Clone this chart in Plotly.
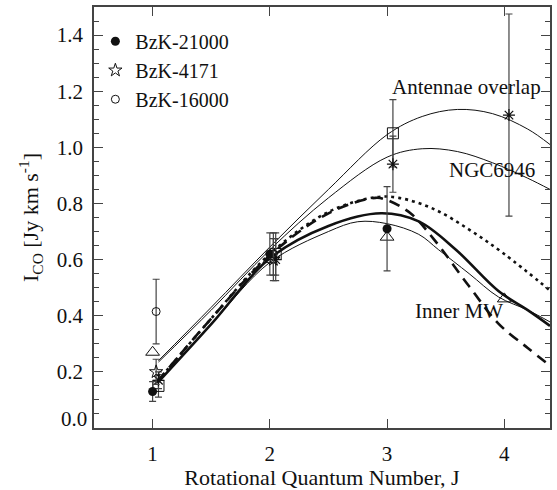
import plotly.graph_objects as go

# ---------------- data ----------------
# observed points (J, I_CO, error)
bzk21000_J = [1.0, 2.0, 3.0]
bzk21000_I = [0.13, 0.62, 0.71]
bzk21000_E = [0.035, 0.075, 0.15]

bzk4171_J = [1.03, 2.03]
bzk4171_I = [0.20, 0.60]
bzk4171_E = [0.045, 0.075]

bzk16000_J = [1.03, 2.03]
bzk16000_I = [0.415, 0.62]
bzk16000_E = [0.115, 0.075]

innermw_pts_J = [1.0, 2.0, 3.0, 4.0]
innermw_pts_I = [0.27, 0.60, 0.68, 0.46]

antennae_pts_J = [1.05, 2.05, 3.05]
antennae_pts_I = [0.15, 0.62, 1.05]
antennae_pts_E = [0.04, 0.075, 0.12]

ngc_pts_J = [1.05, 2.05, 3.05, 4.04]
ngc_pts_I = [0.17, 0.60, 0.94, 1.115]
ngc_pts_E = [0.03, 0.075, 0.10, 0.36]

# model curves
antennae_J = [1.05, 1.5, 2.0, 2.5, 3.0, 3.3, 3.6, 3.9, 4.2, 4.39]
antennae_I = [0.24, 0.43, 0.645, 0.85, 1.045, 1.11, 1.135, 1.12, 1.065, 1.01]

ngc_J = [1.05, 1.5, 2.0, 2.5, 3.0, 3.3, 3.6, 3.9, 4.2, 4.39]
ngc_I = [0.235, 0.42, 0.635, 0.82, 0.965, 0.995, 0.985, 0.945, 0.89, 0.85]

dotted_J = [1.04, 1.5, 2.0, 2.5, 2.9, 3.1, 3.4, 3.7, 4.0, 4.39]
dotted_I = [0.165, 0.39, 0.62, 0.77, 0.822, 0.82, 0.78, 0.707, 0.62, 0.49]

dashed_J = [1.04, 1.5, 2.0, 2.5, 2.9, 3.0, 3.2, 3.4, 3.7, 3.95, 4.2, 4.39]
dashed_I = [0.165, 0.39, 0.615, 0.765, 0.82, 0.812, 0.765, 0.672, 0.505, 0.372, 0.285, 0.222]

solid_J = [1.04, 1.5, 2.0, 2.5, 2.95, 3.27, 3.585, 3.95, 4.2, 4.39]
solid_I = [0.16, 0.37, 0.605, 0.72, 0.765, 0.736, 0.636, 0.488, 0.42, 0.364]

mw_J = [1.04, 1.5, 2.0, 2.5, 2.75, 3.0, 3.27, 3.44, 3.7, 3.95, 4.2, 4.39]
mw_I = [0.16, 0.37, 0.59, 0.70, 0.735, 0.728, 0.69, 0.635, 0.55, 0.467, 0.42, 0.378]

x_ticks = [1, 2, 3, 4]
y_ticks = [0.2, 0.4, 0.6, 0.8, 1.0, 1.2, 1.4]
y_tick_text = ["0.2", "0.4", "0.6", "0.8", "1.0", "1.2", "1.4"]

labels = [("Antennae overlap", 3.026, 1.216), ("NGC6946", 3.51, 0.919), ("Inner MW", 3.218, 0.418)]

# ---------------- figure ----------------
FONT = "Liberation Serif, Times New Roman, serif"
INK = "#111111"
AX = "#444444"

fig = go.Figure()

def curve(J, I, width, dash="solid"):
    fig.add_trace(go.Scatter(x=J, y=I, mode="lines", line=dict(color=INK, width=width, dash=dash, shape="spline"),
                             showlegend=False, hoverinfo="skip"))

curve(antennae_J, antennae_I, 1.0)
curve(ngc_J, ngc_I, 1.0)
curve(mw_J, mw_I, 1.0)
curve(dotted_J, dotted_I, 2.6, "3px,4px")
curve(dashed_J, dashed_I, 2.6, "11px,7px")
curve(solid_J, solid_I, 2.6)

def err(E):
    return dict(type="data", array=E, visible=True, color=AX, thickness=1.2, width=3.5)

fig.add_trace(go.Scatter(x=innermw_pts_J, y=innermw_pts_I, mode="markers", showlegend=False,
                         marker=dict(symbol="triangle-up-open", size=12, color=INK, line=dict(width=1))))
fig.add_trace(go.Scatter(x=antennae_pts_J, y=antennae_pts_I, error_y=err(antennae_pts_E), mode="markers",
                         showlegend=False,
                         marker=dict(symbol="square-open", size=11, color=INK, line=dict(width=1))))
fig.add_trace(go.Scatter(x=ngc_pts_J, y=ngc_pts_I, error_y=err(ngc_pts_E), mode="markers", showlegend=False,
                         marker=dict(symbol="asterisk-open", size=10, color=INK, line=dict(width=1.2, color=INK))))
fig.add_trace(go.Scatter(x=bzk21000_J, y=bzk21000_I, error_y=err(bzk21000_E), mode="markers", name="BzK-21000",
                         marker=dict(symbol="circle", size=9, color=INK)))
fig.add_trace(go.Scatter(x=bzk4171_J, y=bzk4171_I, error_y=err(bzk4171_E), mode="markers", name="BzK-4171",
                         marker=dict(symbol="star-open", size=10, color=INK, line=dict(width=1))))
fig.add_trace(go.Scatter(x=bzk16000_J, y=bzk16000_I, error_y=err(bzk16000_E), mode="markers", name="BzK-16000",
                         marker=dict(symbol="circle-open", size=8, color=INK, line=dict(width=1))))

for text, xv, yv in labels:
    fig.add_annotation(x=xv, y=yv, xref="x", yref="y", text=text, showarrow=False, xanchor="left",
                       yanchor="middle", font=dict(family=FONT, size=21, color=INK))

# shifted 0.0 label, as in the original
fig.add_annotation(x=0, y=0, xref="paper", yref="y", text="0.0", showarrow=False, xanchor="right",
                   yanchor="middle", xshift=-5, yshift=9, font=dict(family=FONT, size=21, color=INK))

fig.update_layout(
    width=557, height=490,
    margin=dict(l=94, r=5, t=6, b=59),
    paper_bgcolor="white", plot_bgcolor="white",
    font=dict(family=FONT, size=21, color=INK),
    legend=dict(x=0.003, y=0.965, xanchor="left", yanchor="top", bgcolor="rgba(0,0,0,0)",
                font=dict(family=FONT, size=20, color=INK), itemwidth=30, tracegroupgap=0),
    xaxis=dict(range=[0.5, 4.39], tickvals=x_ticks, ticks="inside", ticklen=9, tickwidth=1, tickcolor=AX,
               showline=True, linecolor=AX, linewidth=1.5, mirror="ticks", showgrid=False, zeroline=False,
               ticklabelstandoff=6,
               title=dict(text="Rotational Quantum Number, J", font=dict(family=FONT, size=22), standoff=4)),
    yaxis=dict(range=[0, 1.5], tickvals=y_ticks, ticktext=y_tick_text, ticks="inside", ticklen=9, tickwidth=1,
               tickcolor=AX, showline=True, linecolor=AX, linewidth=1.5, mirror="ticks", showgrid=False,
               zeroline=False, ticklabelstandoff=5,
               minor=dict(dtick=0.05, ticks="inside", ticklen=5, tickcolor=AX, showgrid=False),
               title=dict(text="I<sub>CO</sub> [Jy km s<sup>-1</sup>]", font=dict(family=FONT, size=22), standoff=12)),
)

fig.write_html("out.html")
